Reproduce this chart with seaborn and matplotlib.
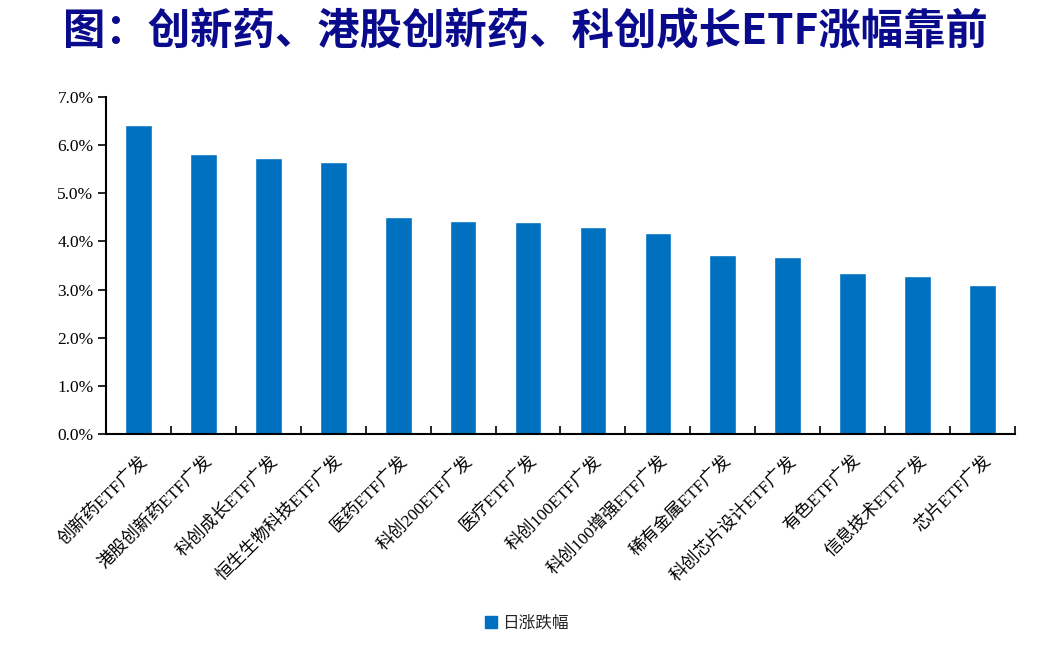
import matplotlib
matplotlib.use("Agg")
import matplotlib.pyplot as plt
import seaborn as sns
import pandas as pd
import numpy as np
from matplotlib.ticker import FuncFormatter, FixedLocator
from matplotlib.lines import Line2D

categories = ["创新药ETF广发", "港股创新药ETF广发", "科创成长ETF广发", "恒生生物科技ETF广发",
              "医药ETF广发", "科创200ETF广发", "医疗ETF广发", "科创100ETF广发",
              "科创100增强ETF广发", "稀有金属ETF广发", "科创芯片设计ETF广发", "有色ETF广发",
              "信息技术ETF广发", "芯片ETF广发"]
values = [6.41, 5.81, 5.73, 5.64, 4.50, 4.42, 4.40, 4.29, 4.17, 3.71, 3.67, 3.34, 3.29, 3.09]
series_name = "日涨跌幅"
title = "图：创新药、港股创新药、科创成长ETF涨幅靠前"
yticks = [0, 1, 2, 3, 4, 5, 6, 7]

sns.set_theme(style="white")
plt.rcParams['font.family'] = ['Liberation Serif', 'Noto Sans CJK SC', 'DejaVu Sans']

df = pd.DataFrame({"cat": categories, "val": values})
bar_color = "#0070C0"

fig = plt.figure(figsize=(10.51, 6.47), dpi=100)
ax = fig.add_axes([0.1009, 0.3292, 0.8648, 0.5209])
sns.barplot(data=df, x="cat", y="val", color=bar_color, width=0.41, saturation=1, ax=ax)

n = len(categories)
ax.set_xlim(-0.5, n - 0.5)
ax.set_ylim(0, 7)
ax.set_yticks(yticks)
ax.yaxis.set_major_formatter(FuncFormatter(lambda v, p: f"{v:.1f}%"))
ax.set_xlabel("")
ax.set_ylabel("")

for s in ["top", "right"]:
    ax.spines[s].set_visible(False)
for s in ["left", "bottom"]:
    ax.spines[s].set_color("black")
    ax.spines[s].set_linewidth(1.5)

ax.tick_params(axis="y", which="major", direction="out", length=6, width=1.2,
               color="black", labelsize=12.5, pad=3, left=True)
ax.tick_params(axis="x", which="major", length=0, pad=13)
ax.xaxis.set_minor_locator(FixedLocator(np.arange(-0.5, n, 1.0)))
ax.tick_params(axis="x", which="minor", direction="in", length=6, width=1.2,
               color="black", bottom=True)

ax.set_xticks(range(n))
ax.set_xticklabels(categories, rotation=45, ha="right", rotation_mode="anchor",
                   fontsize=12.5, color="black")
for lbl in ax.get_yticklabels():
    lbl.set_color("black")

fig.text(0.5, 0.951, title, ha="center", va="center", fontsize=30.5, fontweight="bold",
         color="#0A0A8C", family=['Noto Sans CJK SC', 'DejaVu Sans'])

handle = Line2D([0], [0], marker="s", color="none", markerfacecolor=bar_color,
                markeredgecolor=bar_color, markersize=8)
fig.legend([handle], [series_name], loc="center", bbox_to_anchor=(0.5, 0.036),
           frameon=False, fontsize=12, handletextpad=0.2, handlelength=1.0)

fig.savefig("out.png", dpi=100)
